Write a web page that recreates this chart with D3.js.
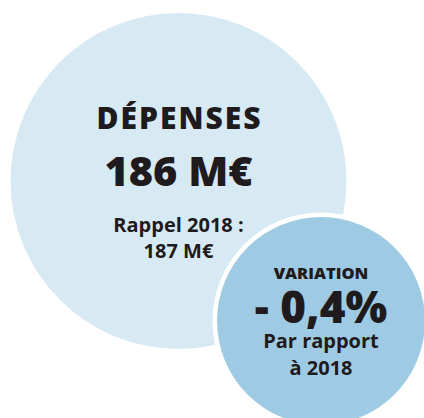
<!DOCTYPE html>
<html>
<head>
<meta charset="utf-8">
<script src="https://cdn.jsdelivr.net/npm/d3@7"></script>
<style>
  body { margin: 0; background: #fff; }
  text { font-family: "Open Sans", "Lato", sans-serif; fill: #1f1b1c; }
</style>
</head>
<body>
<svg id="chart" width="424" height="418"></svg>
<script>
const titles = ["DÉPENSES", "VARIATION"];
const values = ["186 M€", "- 0,4%"];
const notes = [["Rappel 2018 :", "187 M€"], ["Par rapport", "à 2018"]];

const svg = d3.select("#chart");

// layout for the two bubbles (big one first)
const bubbles = [
  { cx: 178.5, cy: 181, r: 168, fill: "#d7eaf4", title: 30, spacing: 2, value: 41.5, note: 20,
    tY: 129, vY: 186, nY: [232, 258] },
  { cx: 321, cy: 321, r: 104, fill: "#9ecbe3", title: 16.5, spacing: 0, value: 44, note: 20,
    tY: 279, vY: 323, nY: [348, 375] }
].map((b, i) => ({ ...b, name: titles[i], val: values[i], lines: notes[i] }));

const g = svg.selectAll("g.bubble")
  .data(bubbles)
  .join("g")
  .attr("class", "bubble");

g.append("circle")
  .attr("cx", d => d.cx)
  .attr("cy", d => d.cy)
  .attr("r", d => d.r)
  .attr("fill", d => d.fill)
  .attr("stroke", (d, i) => i ? "#fff" : "none")
  .attr("stroke-width", 9)
  .attr("paint-order", "stroke");

g.append("text")
  .attr("x", d => d.cx + d.spacing / 2)
  .attr("y", d => d.tY)
  .attr("text-anchor", "middle")
  .style("font-weight", 800)
  .style("font-size", d => d.title + "px")
  .style("letter-spacing", d => d.spacing + "px")
  .text(d => d.name);

g.append("text")
  .attr("x", d => d.cx)
  .attr("y", d => d.vY)
  .attr("text-anchor", "middle")
  .style("font-weight", 800)
  .style("font-size", d => d.value + "px")
  .text(d => d.val);

g.each(function (d) {
  d3.select(this).selectAll("text.note")
    .data(d.lines)
    .join("text")
    .attr("class", "note")
    .attr("x", d.cx)
    .attr("y", (_, j) => d.nY[j])
    .attr("text-anchor", "middle")
    .style("font-weight", 700)
    .style("font-size", d.note + "px")
    .text(t => t);
});
</script>
</body>
</html>
